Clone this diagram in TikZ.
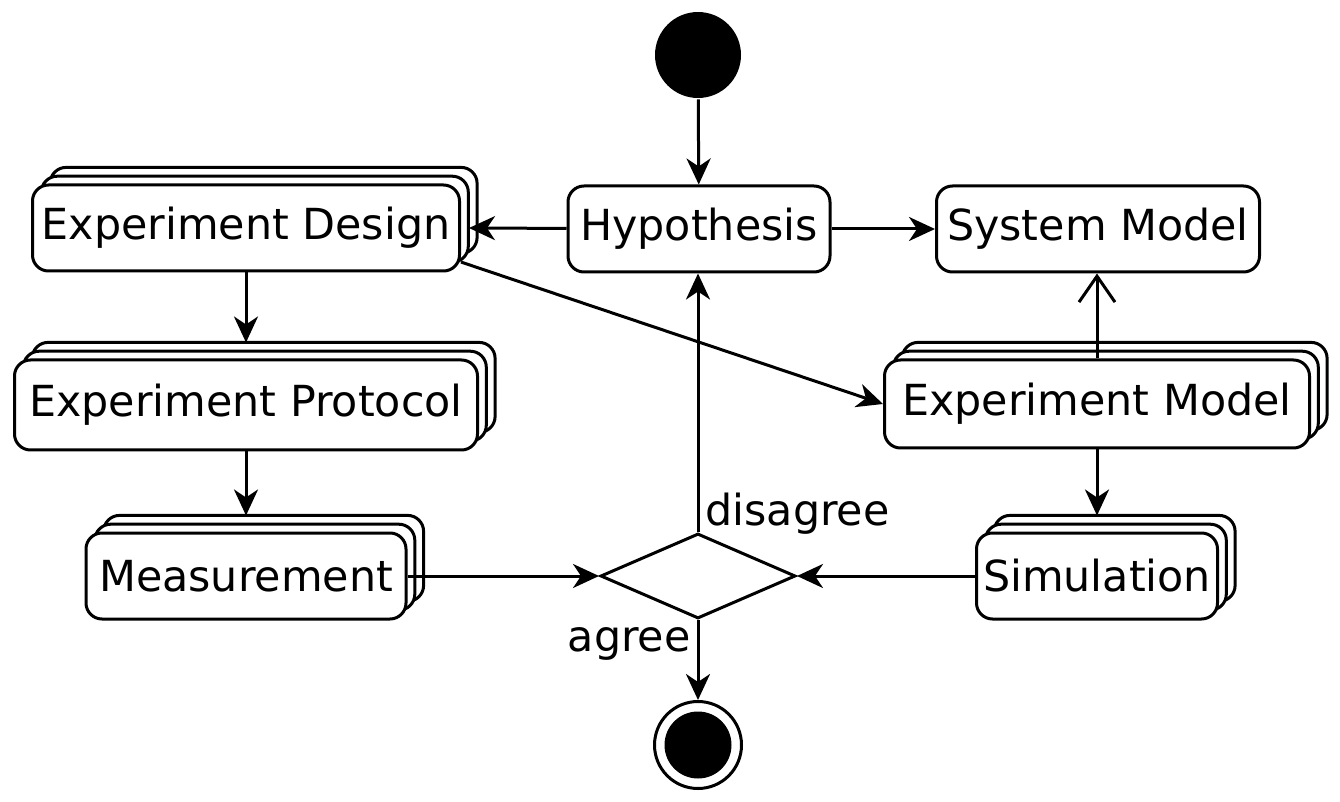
\documentclass[tikz,border=0pt]{standalone}
\usepackage{fontspec}
\setmainfont{DejaVu Sans}
\usetikzlibrary{arrows.meta}
\usetikzlibrary{shapes.geometric,shadows}

\begin{document}
\begin{tikzpicture}[x=0.25pt, y=-0.25pt, line width=0.75pt,
		act/.style={draw, rounded corners=4pt, fill=white, inner sep=0.5pt, minimum height=21.5pt, font=\fontsize{10.7}{13}\selectfont},
		multi/.style={act, copy shadow={shadow xshift=4.4pt, shadow yshift=4.4pt}, copy shadow={shadow xshift=2.2pt, shadow yshift=2.2pt}},
		lab/.style={font=\fontsize{10.7}{13}\selectfont, inner sep=1.5pt},
		>={Stealth[length=6.5pt, width=6pt, inset=2pt]}]
		\useasboundingbox (0,0) rectangle (1340,802);
		% states
		\node[circle, fill=black, minimum size=21.5pt, inner sep=0pt] (start) at (698,55) {};
		\node[circle, draw, minimum size=21.75pt, inner sep=0pt] (stop) at (698,745) {};
		\node[circle, fill=black, minimum size=16.75pt, inner sep=0pt] at (stop) {};
		\node[diamond, draw, minimum width=48.75pt, minimum height=21.25pt, inner sep=0pt] (dec) at (698,576) {};
		% activities
		\node[act, minimum width=65.5pt] (hyp) at (699,229) {Hypothesis};
		\node[act, minimum width=80.75pt] (sm) at (1098,229) {System Model};
		\node[multi, minimum width=106.75pt] (ed) at (246,228) {Experiment Design};
		\node[multi, minimum width=115.75pt, minimum height=22.5pt] (ep) at (246,405) {Experiment Protocol};
		\node[multi, minimum width=80pt] (ms) at (246,576) {Measurement};
		\node[multi, minimum width=106.25pt, minimum height=22pt] (em) at (1097,404) {Experiment Model};
		\node[multi, minimum width=60.25pt] (sim) at (1097,576) {Simulation};
		% flows
		\draw[->] (start) -- (hyp);
		\draw[->] (hyp) -- ([xshift=2pt]ed.east);
		\draw[->] (hyp) -- (sm);
		\draw[->] (ed.south) -- ([yshift=4pt]ep.north);
		\draw[->] (ed.-9) -- (em.west);
		\draw[->] (ep.south) -- ([yshift=4pt]ms.north);
		\draw[->] (ms.east) -- (dec.west);
		\draw[->] (sim.west) -- (dec.east);
		\draw[-{Straight Barb[length=6.5pt, width=9pt]}] (em.north) -- (em.north |- sm.south);
		\draw[->] (em.south) -- ([yshift=4pt]sim.north);
		\draw[->] (dec.north) -- (dec.north |- hyp.south) node[lab, pos=0, anchor=south west, yshift=-2.5pt] {disagree};
		\draw[->] (dec.south) -- (stop.north) node[lab, pos=0, anchor=north east] {agree};
	\end{tikzpicture}
\end{document}
